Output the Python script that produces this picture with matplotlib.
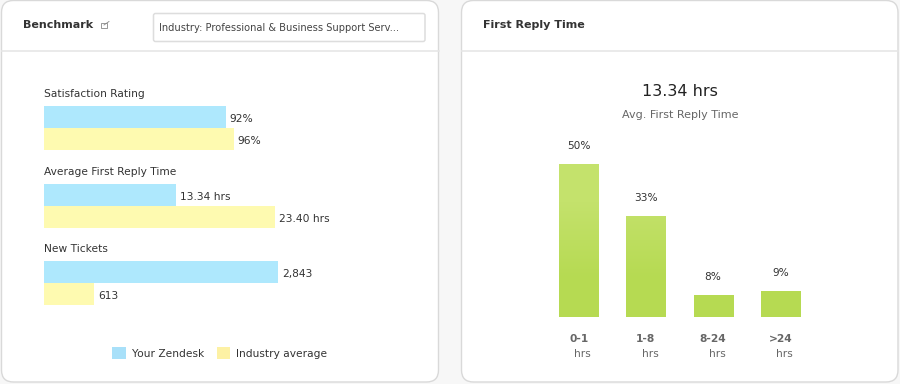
import matplotlib
matplotlib.use("Agg")
import matplotlib.pyplot as plt
from matplotlib.colors import LinearSegmentedColormap
from matplotlib.patches import FancyBboxPatch, Patch, Rectangle

# ---- data ----
metric_names = ["Satisfaction Rating", "Average First Reply Time", "New Tickets"]
your_values = [92, 13.34, 2843]
industry_values = [96, 23.40, 613]
your_labels = ["92%", "13.34 hrs", "2,843"]
industry_labels = ["96%", "23.40 hrs", "613"]
series_names = ["Your Zendesk", "Industry average"]

reply_buckets = ["0-1", "1-8", "8-24", ">24"]
reply_shares = [50, 33, 7, 8.5]
reply_labels = ["50%", "33%", "8%", "9%"]

# ---- style ----
W, H = 900, 384
BLUE, YELLOW = "#AEE8FD", "#FEFAB0"
LEG_BLUE, LEG_YELLOW = "#A8E0F9", "#FDF1A4"
GREEN_TOP, GREEN_BOTTOM = "#C4E26C", "#B6DA52"
DARK, MID = "#333333", "#666666"
plt.rcParams["font.family"] = "DejaVu Sans"
S = 7.7

fig = plt.figure(figsize=(W / 100, H / 100), dpi=100, facecolor="#F7F7F7")


def px_axes(x0, y0, x1, y1):
    ax = fig.add_axes([x0 / W, 1 - y1 / H, (x1 - x0) / W, (y1 - y0) / H])
    ax.patch.set_alpha(0)
    return ax


bg = px_axes(0, 0, W, H)
bg.set_xlim(0, W)
bg.set_ylim(H, 0)
bg.axis("off")

for x0, x1 in [(1.5, 438.5), (461.5, 898)]:
    bg.add_patch(FancyBboxPatch((x0 + 12, 12.5), x1 - x0 - 24, 357.5,
                                boxstyle="round,pad=12,rounding_size=12",
                                fc="white", ec="#D9D9D9", lw=1))
    bg.plot([x0, x1], [51, 51], color="#E6E6E6", lw=1.2)

bg.text(23, 25.5, "Benchmark", fontsize=8.05, fontweight="bold", color=DARK,
        va="center", ha="left")
bg.add_patch(Rectangle((101, 23), 5.5, 5, fc="none", ec="#888888", lw=0.6))
bg.plot([104, 109], [25, 21.5], color="#888888", lw=0.6)
bg.add_patch(FancyBboxPatch((155.5, 15.5), 267.5, 24,
                            boxstyle="round,pad=2,rounding_size=2",
                            fc="white", ec="#DDDDDD", lw=1.1))
bg.text(159, 28.3, "Industry: Professional & Business Support Serv...",
        fontsize=7.13, color="#444444", va="center", ha="left")
bg.text(483, 25.5, "First Reply Time", fontsize=8.05, fontweight="bold",
        color=DARK, va="center", ha="left")
bg.text(680, 91.5, "13.34 hrs", fontsize=11.5, color="#222222", va="center", ha="center")
bg.text(680, 114.5, "Avg. First Reply Time", fontsize=8.0, color=MID, va="center", ha="center")

# ---- benchmark bars: one axes per metric, each with its own scale ----
group_tops = [106, 184, 261]
title_y = [94, 172, 249]
px_per_unit = [1.975, 9.86, 0.0822]
for i, name in enumerate(metric_names):
    top = group_tops[i]
    ax = px_axes(44, top, 344, top + 43.5)
    ax.set_xlim(0, 300 / px_per_unit[i])
    ax.set_ylim(1.5, -0.5)
    ax.axis("off")
    ax.barh(0, your_values[i], height=1, color=BLUE)
    ax.barh(1, industry_values[i], height=1, color=YELLOW)
    for row, (v, lab) in enumerate([(your_values[i], your_labels[i]),
                                    (industry_values[i], industry_labels[i])]):
        ax.annotate(lab, (v, row), xytext=(3, -1.5), textcoords="offset points",
                    fontsize=S, color=DARK, va="center", ha="left", annotation_clip=False)
    bg.text(43.5, title_y[i], name, fontsize=S, color=DARK, va="center", ha="left")

handles = [Patch(fc=LEG_BLUE, ec="none", label=series_names[0]),
           Patch(fc=LEG_YELLOW, ec="none", label=series_names[1])]
fig.legend(handles=handles, loc="center", bbox_to_anchor=(220 / W, 1 - 353 / H), ncol=2,
           frameon=False, fontsize=S, labelcolor=DARK, handlelength=1.25, handleheight=1.25,
           handletextpad=0.6, columnspacing=1.15, borderpad=0)

# ---- first reply time bars ----
ax = px_axes(545, 149, 814, 316.7)
ax.set_xlim(-0.5, 3.5)
ax.set_ylim(0, 55)
positions = list(range(len(reply_buckets)))
bars = ax.bar(positions, reply_shares, width=0.58, color=GREEN_BOTTOM,
              edgecolor="#B9DC58", linewidth=0.6)
green_cmap = LinearSegmentedColormap.from_list("g", [GREEN_TOP, GREEN_BOTTOM])
for b in bars:
    im = ax.imshow([[0], [1]], cmap=green_cmap, aspect="auto", interpolation="bilinear",
                   extent=(-0.5, 3.5, 0, max(reply_shares)), zorder=b.get_zorder() + 0.1)
    im.set_clip_path(b)
ax.set_xlim(-0.5, 3.5)
ax.set_ylim(0, 55)
for p, v, lab in zip(positions, reply_shares, reply_labels):
    ax.annotate(lab, (p, v), xytext=(0, 13), textcoords="offset points", fontsize=7.6,
                color=DARK, va="center", ha="center", annotation_clip=False)
for s in ax.spines.values():
    s.set_visible(False)
ax.set_yticks([])
ax.set_xticks(positions, reply_buckets, fontsize=S, fontweight="bold", color=MID)
ax.tick_params(axis="x", length=0, pad=12.5)
for p in positions:
    ax.annotate("hrs", (p, 0), xytext=(3, -26.5), textcoords="offset points", fontsize=S,
                color=MID, va="center", ha="center", annotation_clip=False)

fig.savefig("out.png", dpi=100, facecolor=fig.get_facecolor())
